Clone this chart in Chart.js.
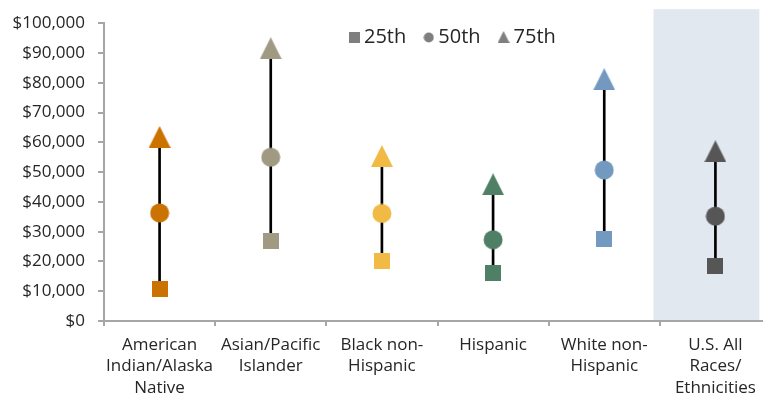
<!DOCTYPE html>
<html>
<head>
<meta charset="utf-8">
<script src="https://cdn.jsdelivr.net/npm/chart.js@4"></script>
<style>
  html, body { margin: 0; padding: 0; background: #fff; overflow: hidden; }
  #wrap { width: 782px; height: 396px; }
</style>
</head>
<body>
<div id="wrap"><canvas id="chart" width="782" height="396"></canvas></div>
<script>
// categories and percentile values (annual income, $)
const categories = [
  ['American', 'Indian/Alaska', 'Native'],
  ['Asian/Pacific', 'Islander'],
  ['Black non-', 'Hispanic'],
  ['Hispanic'],
  ['White non-', 'Hispanic'],
  ['U.S. All', 'Races/', 'Ethnicities']
];
const p25 = [10700, 26800, 20200, 16200, 27400, 18500];
const p50 = [36300, 55000, 36100, 27300, 50700, 35200];
const p75 = [61800, 91600, 55400, 45900, 81200, 57000];
const percentileNames = ['25th', '50th', '75th'];
const yTicks = [0, 10000, 20000, 30000, 40000, 50000, 60000, 70000, 80000, 90000, 100000];

const colors = ['#CB7300', '#A19A83', '#F1BA45', '#4F7F65', '#7399C0', '#565656'];
const legendGray = '#7F7F7F';
const axisGray = '#A6A6A6';
const textColor = '#262626';
const shadeColor = '#E1E8F0';

// marker images
function marker(shape, color, size) {
  const c = document.createElement('canvas');
  c.width = size; c.height = size;
  const g = c.getContext('2d');
  g.fillStyle = color;
  if (shape === 'square') {
    g.fillRect(0, 0, size, size);
  } else if (shape === 'circle') {
    g.beginPath();
    g.arc(size / 2, size / 2, size / 2 - 0.5, 0, Math.PI * 2);
    g.fill();
  } else {
    g.beginPath();
    g.moveTo(size / 2, 0);
    g.lineTo(size, size);
    g.lineTo(0, size);
    g.closePath();
    g.fill();
  }
  return c;
}
const squares = colors.map(c => marker('square', c, 16));
const circles = colors.map(c => marker('circle', c, 20));
const triangles = colors.map(c => marker('triangle', c, 22));
const legendIcons = [
  marker('square', legendGray, 11),
  marker('circle', legendGray, 11),
  marker('triangle', legendGray, 12)
];

// light band behind the U.S. total
const shadePlugin = {
  id: 'shade',
  beforeDraw(chart) {
    const x = chart.scales.x;
    const area = chart.chartArea;
    const w = x.getPixelForValue(1) - x.getPixelForValue(0);
    const c = x.getPixelForValue(5);
    const ctx = chart.ctx;
    ctx.save();
    ctx.fillStyle = shadeColor;
    ctx.fillRect(c - 0.557 * w, area.top - 14, 0.952 * w, area.bottom - area.top + 14);
    ctx.restore();
  }
};

// legend drawn inside the plot, one row
const legendPlugin = {
  id: 'innerLegend',
  afterDraw(chart) {
    const ctx = chart.ctx;
    const cy = 37;
    let x = 349;
    ctx.save();
    ctx.font = '20px "Open Sans"';
    ctx.fillStyle = textColor;
    ctx.textBaseline = 'middle';
    percentileNames.forEach((name, i) => {
      const icon = legendIcons[i];
      ctx.drawImage(icon, x, Math.round(cy - icon.height / 2));
      x += icon.width + 4;
      ctx.fillText(name, x, cy);
      x += ctx.measureText(name).width + 17;
    });
    ctx.restore();
  }
};

new Chart(document.getElementById('chart'), {
  type: 'bar',
  data: {
    labels: categories,
    datasets: [
      {
        type: 'line', label: percentileNames[0], data: p25, showLine: false,
        pointStyle: squares, pointRadius: 10, pointHoverRadius: 10, order: 0
      },
      {
        type: 'line', label: percentileNames[1], data: p50, showLine: false,
        pointStyle: circles, pointRadius: 10, pointHoverRadius: 10, order: 0
      },
      {
        type: 'line', label: percentileNames[2], data: p75, showLine: false,
        pointStyle: triangles, pointRadius: 10, pointHoverRadius: 10, order: 0
      },
      {
        label: 'range', data: p25.map((v, i) => [v, p75[i]]),
        backgroundColor: '#000', barThickness: 2, order: 5
      }
    ]
  },
  options: {
    responsive: false,
    animation: false,
    events: [],
    layout: { padding: { top: 22, left: 0, right: 1, bottom: 0 } },
    plugins: {
      tooltip: { enabled: false },
      legend: { display: false }
    },
    scales: {
      x: {
        offset: true,
        grid: {
          offset: true, drawOnChartArea: false, drawTicks: true,
          tickLength: 5, color: axisGray, lineWidth: 2
        },
        border: { color: axisGray, width: 2 },
        ticks: {
          color: textColor, maxRotation: 0, autoSkip: false, padding: 8,
          font: { family: 'Open Sans', size: 17, lineHeight: 1.27 }
        },
        afterFit(scale) { scale.height = 75; }
      },
      y: {
        min: 0, max: 100000,
        afterBuildTicks(scale) { scale.ticks = yTicks.map(v => ({ value: v })); },
        grid: {
          drawOnChartArea: false, drawTicks: true,
          tickLength: 6, color: axisGray, lineWidth: 2
        },
        border: { color: axisGray, width: 2 },
        ticks: {
          color: textColor, padding: 13,
          font: { family: 'Open Sans', size: 17 },
          callback: v => '$' + v.toLocaleString('en-US')
        },
        afterFit(scale) { scale.width = 104; }
      }
    }
  },
  plugins: [shadePlugin, legendPlugin]
});
</script>
</body>
</html>
